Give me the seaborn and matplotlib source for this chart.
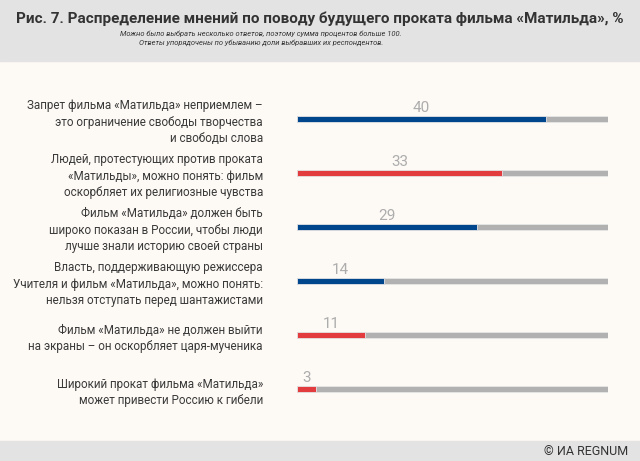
import matplotlib
matplotlib.use("Agg")
import matplotlib.pyplot as plt
import seaborn as sns
import pandas as pd

# Данные
ответы = [
    "Запрет фильма «Матильда» неприемлем –\nэто ограничение свободы творчества\nи свободы слова",
    "Людей, протестующих против проката\n«Матильды», можно понять: фильм\nоскорбляет их религиозные чувства",
    "Фильм «Матильда» должен быть\nшироко показан в России, чтобы люди\nлучше знали историю своей страны",
    "Власть, поддерживающую режиссера\nУчителя и фильм «Матильда», можно понять:\nнельзя отступать перед шантажистами",
    "Фильм «Матильда» не должен выйти\nна экраны – он оскорбляет царя-мученика",
    "Широкий прокат фильма «Матильда»\nможет привести Россию к гибели",
]
проценты = [40, 33, 29, 14, 11, 3]
позиция = ["за", "против", "за", "за", "против", "против"]  # цвет полосы
шкала = [50, 50, 50, 50, 50, 50]  # серая подложка

синий, красный, серый = "#00468C", "#E23C3F", "#B1B1B1"
фон, шапка = "#FDF9F5", "#E3E3E3"

df = pd.DataFrame({"ответ": ответы, "процент": проценты, "позиция": позиция, "шкала": шкала})

sns.set_style("white")
plt.rcParams["font.family"] = ["Roboto", "DejaVu Sans"]

W, H = 640, 461
fig = plt.figure(figsize=(W / 100, H / 100), dpi=100, facecolor=фон)

# шапка и подвал
fig.patches.append(plt.Rectangle((0, 1 - 61 / H), 1, 61 / H, transform=fig.transFigure,
                                 color=шапка, zorder=0))
fig.patches.append(plt.Rectangle((0, 0), 1, 20 / H, transform=fig.transFigure,
                                 color=шапка, zorder=0))

# оси: полосы от x=297 до 608, центры полос от y=119 до 389
шаг = (389 - 119) / 5
верх, низ = 119 - шаг / 2, 389 + шаг / 2
ax = fig.add_axes([297 / W, 1 - низ / H, (608 - 297) / W, (низ - верх) / H])
ax.set_facecolor("none")

толщина = 6 / шаг
sns.barplot(data=df, y="ответ", x="шкала", color=серый, width=толщина, ax=ax,
            saturation=1, edgecolor="#E6E6E6", linewidth=0.6)
sns.barplot(data=df, y="ответ", x="процент", hue="позиция",
            palette={"за": синий, "против": красный}, width=толщина, ax=ax,
            saturation=1, legend=False, dodge=False, edgecolor="#E6E6E6", linewidth=0.6)

ax.set_xlim(0, 50)
ax.set_ylim(len(ответы) - 0.5, -0.5)
ax.set_xlabel("")
ax.set_ylabel("")
ax.set_xticks([])
ax.set_yticks(range(len(ответы)))
ax.set_yticklabels(ответы, fontsize=8.4, color="#3a3a3a", linespacing=1.36)
ax.tick_params(axis="y", length=0, pad=24.5)
sns.despine(ax=ax, left=True, bottom=True)

for i, v in enumerate(проценты):
    ax.annotate(str(v), (v / 2, i), xytext=(0, 3), textcoords="offset points",
                ha="center", va="bottom", fontsize=11, color="#ADADAD")

# заголовки
fig.text(320 / W, 1 - 19 / H,
         "Рис. 7. Распределение мнений по поводу будущего проката фильма «Матильда», %",
         ha="center", va="center", fontsize=11, fontweight="bold", color="#333333")
fig.text(261 / W, 1 - 38 / H,
         "Можно было выбрать несколько ответов, поэтому сумма процентов больше 100.\n"
         "Ответы упорядочены по убыванию доли выбравших их респондентов.",
         ha="center", va="center", fontsize=5.4, style="italic", color="#333333",
         linespacing=1.35)
fig.text(628 / W, 10 / H, "© ИА REGNUM", ha="right", va="center", fontsize=9,
         color="#333333")

fig.savefig("out.png", dpi=100, facecolor=fig.get_facecolor())
